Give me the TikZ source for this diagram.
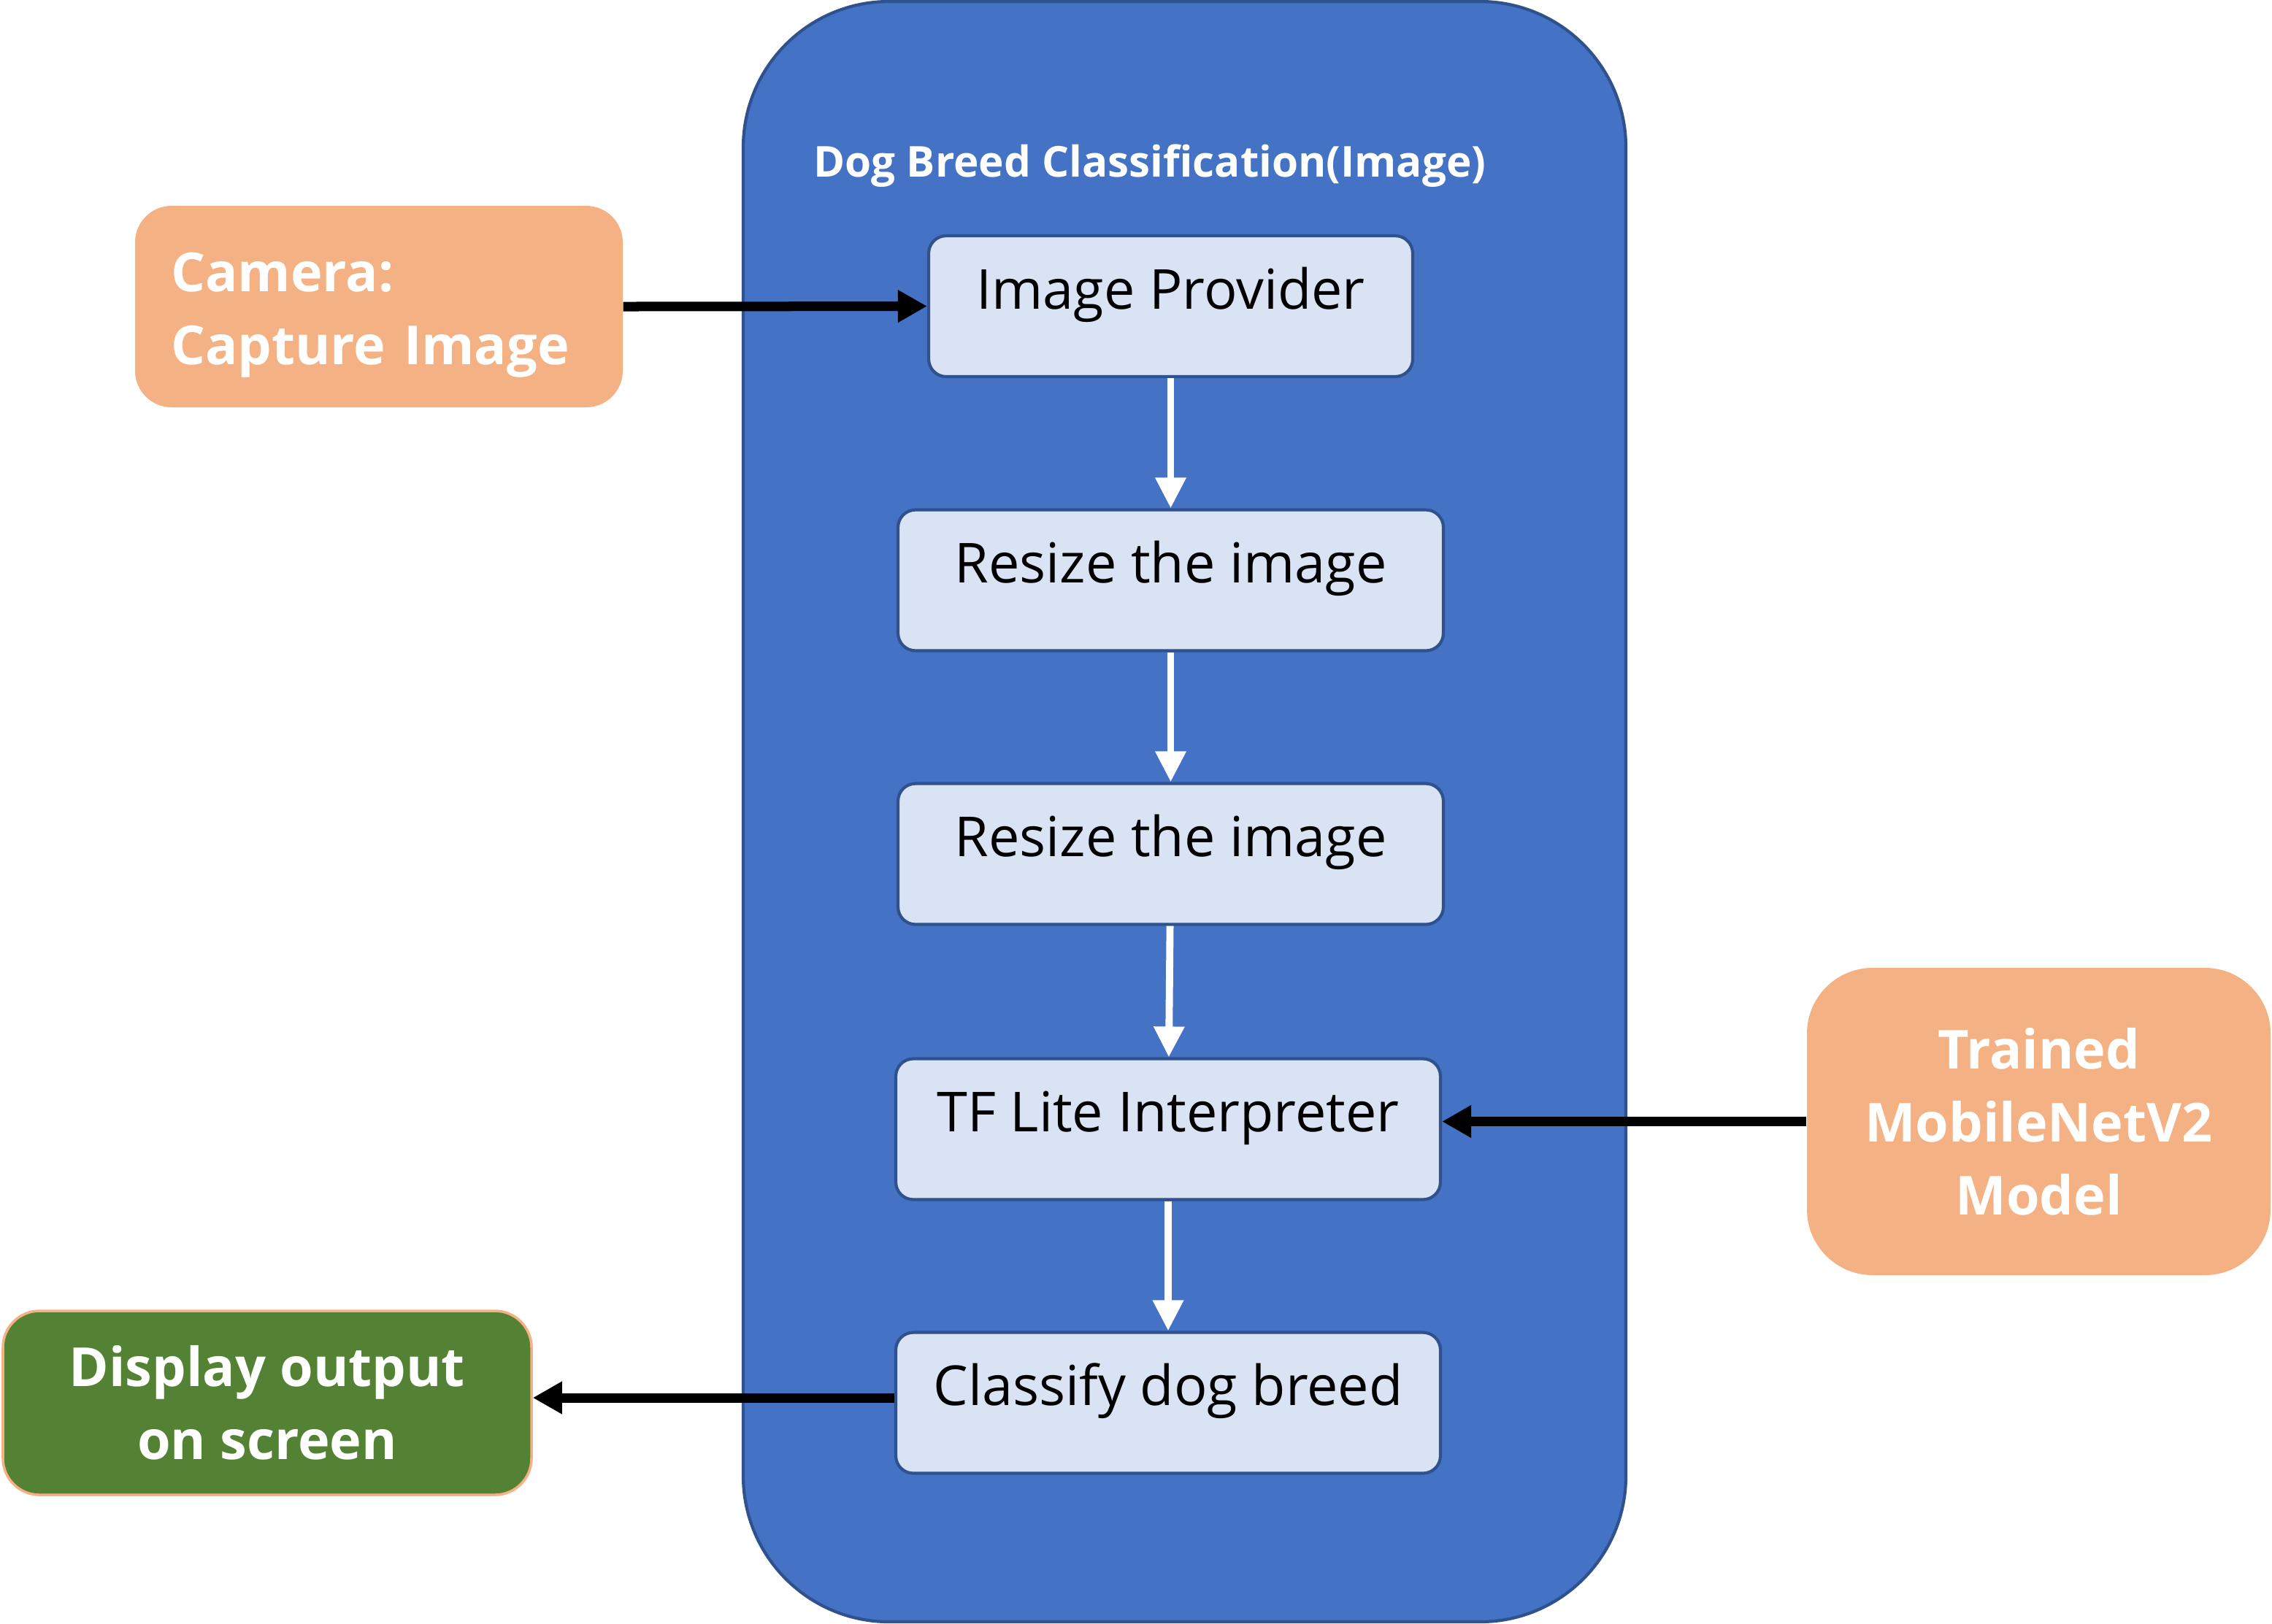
\documentclass[tikz,border=0pt]{standalone}
\usepackage{fontspec}
\setmainfont{Open Sans}
\usetikzlibrary{arrows.meta}
\definecolor{pipeblue}{HTML}{4472C4}
\definecolor{pipeedge}{HTML}{2F528F}
\definecolor{stepfill}{HTML}{DAE3F3}
\definecolor{peach}{HTML}{F4B183}
\definecolor{leafgreen}{HTML}{548235}
\begin{document}
\begin{tikzpicture}[
    stepbox/.style={draw=pipeedge, fill=stepfill, line width=1.2pt, rounded corners=0.24cm,
        minimum height=1.93cm, text height=0.55cm, text depth=0.48cm,
        font=\fontsize{21.5}{28}\selectfont},
    sidebox/.style={fill=peach, rounded corners=0.5cm, text=white, align=center,
        font=\fontsize{21}{28.5}\selectfont\bfseries},
    flow/.style={white, line width=2.8pt, -{Triangle[width=0.4cm,length=0.42cm]}},
    feed/.style={black, line width=3.7pt, -{Triangle[width=0.42cm,length=0.4cm]}}]
\useasboundingbox (0,0) rectangle (31.12,-22.24);
% container
\node[draw=pipeedge, fill=pipeblue, line width=1.2pt, rounded corners=2cm,
    minimum width=12.09cm, minimum height=22.2cm] (classifier) at (16.225,-11.12) {};
\node[text=white, font=\fontsize{16.6}{19}\selectfont\bfseries] (title) at (15.75,-2.27) {Dog Breed Classification(Image)};
% steps
\node[stepbox, minimum width=6.63cm] (provider) at (16.035,-4.195) {Image Provider};
\node[stepbox, minimum width=7.47cm] (resizeA) at (16.035,-7.95) {Resize the image};
\node[stepbox, minimum width=7.47cm] (resizeB) at (16.035,-11.70) {Resize the image};
\node[stepbox, minimum width=7.46cm] (interp) at (16.0,-15.47) {TF Lite Interpreter};
\node[stepbox, minimum width=7.46cm] (classify) at (16.0,-19.22) {Classify dog breed};
\draw[flow] (provider) -- (resizeA);
\draw[flow] (resizeA) -- (resizeB);
\draw[flow] (resizeB) -- (interp);
\draw[flow] (interp) -- (classify);
% outside
\node[sidebox, text width=5.7cm, inner xsep=0.49cm, align=left, minimum height=2.76cm] (camera) at (5.19,-4.20) {\rule{0pt}{0.76cm}Camera:\\Capture Image};
\node[sidebox, rounded corners=0.9cm, minimum width=6.35cm, minimum height=4.21cm] (model) at (27.925,-15.365) {Trained\\MobileNetV2\\Model};
\node[sidebox, draw=peach, fill=leafgreen, line width=1pt, minimum width=7.24cm, minimum height=2.52cm] (display) at (3.66,-19.22) {Display output\\on screen};
\draw[feed] (camera.east) -- (provider.west);
\draw[feed] (model.west) -- (model.west -| interp.east);
\draw[feed] ([yshift=0.07cm]classify.west) -- ([yshift=0.07cm]classify.west -| display.east);
\end{tikzpicture}
\end{document}
